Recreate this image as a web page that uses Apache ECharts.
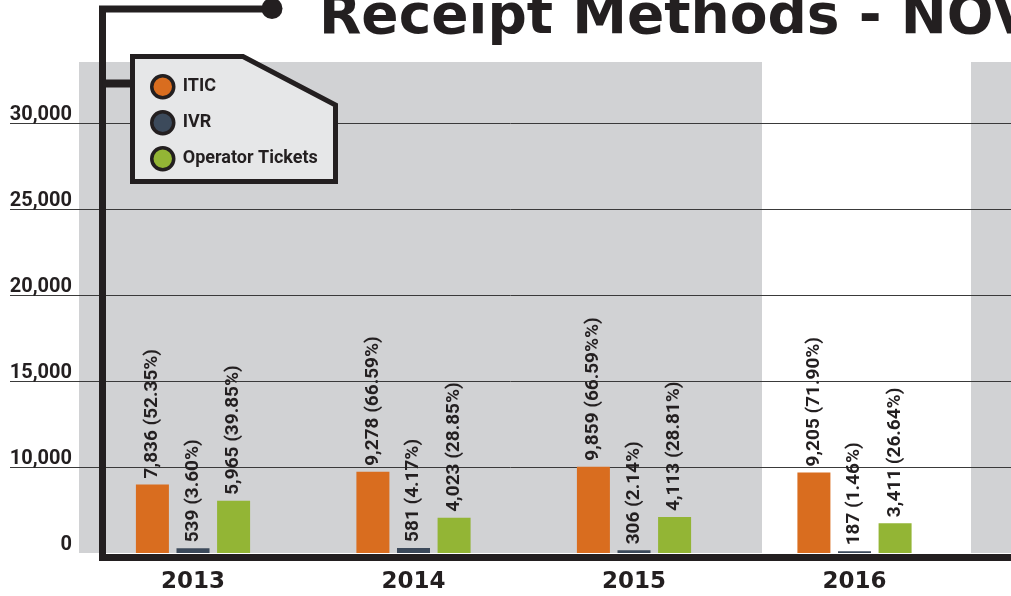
<!DOCTYPE html>
<html>
<head>
<meta charset="utf-8">
<script src="https://cdn.jsdelivr.net/npm/echarts@6/dist/echarts.min.js"></script>
<style>
html,body{margin:0;padding:0;background:#fff;}
#chart{width:1011px;height:596px;}
</style>
</head>
<body>
<div id="chart"></div>
<script>
const categories = ['2013', '2014', '2015', '2016'];
const iticValues = [7836, 9278, 9859, 9205];
const ivrValues = [539, 581, 306, 187];
const operatorValues = [5965, 4023, 4113, 3411];
const iticPct = ['52.35%', '66.59%', '66.59%%', '71.90%'];
const ivrPct = ['3.60%', '4.17%', '2.14%', '1.46%'];
const operatorPct = ['39.85%', '28.85%', '28.81%', '26.64%'];
const yTickLabels = ['0', '10,000', '15,000', '20,000', '25,000', '30,000'];
const titleText = 'Receipt Methods - NOVEMBER';

const INK = '#231f20';

function fmt(pcts) {
  return function (p) {
    return p.value.toLocaleString('en-US') + ' (' + pcts[p.dataIndex] + ')';
  };
}

function barLabel(pcts) {
  return {
    show: true,
    position: 'top',
    rotate: 90,
    align: 'left',
    verticalAlign: 'middle',
    distance: 6,
    color: INK,
    fontFamily: 'Roboto',
    fontWeight: 'bold',
    fontSize: 19,
    formatter: fmt(pcts)
  };
}

const chart = echarts.init(document.getElementById('chart'), null, { renderer: 'canvas' });

chart.setOption({
  animation: false,
  backgroundColor: '#ffffff',
  grid: [
    { left: 10, right: 0, top: 123, bottom: 43 },
    { left: 82.75, right: 46.25, top: 465.5, bottom: 43 }
  ],
  xAxis: [
    { gridIndex: 0, type: 'value', show: false },
    {
      gridIndex: 1,
      type: 'category',
      data: categories,
      axisLine: { show: false },
      axisTick: { show: false },
      axisLabel: {
        color: INK,
        fontFamily: 'DejaVu Sans',
        fontWeight: 'bold',
        fontSize: 23,
        margin: 18
      }
    }
  ],
  yAxis: [
    {
      gridIndex: 0,
      type: 'category',
      data: yTickLabels,
      boundaryGap: false,
      axisLine: { show: false },
      axisTick: { show: false },
      axisLabel: {
        margin: -62,
        align: 'right',
        verticalAlign: 'bottom',
        padding: [0, 0, -2, 0],
        color: INK,
        fontFamily: 'Roboto',
        fontWeight: 'bold',
        fontSize: 20
      },
      splitLine: {
        show: true,
        interval: function (i) { return i !== 0; },
        lineStyle: { color: '#3a3a3a', width: 1 }
      }
    },
    {
      gridIndex: 1,
      type: 'value',
      min: 0,
      max: 10000,
      show: false,
      splitLine: { show: false }
    }
  ],
  legend: {
    orient: 'vertical',
    left: 150,
    top: 74,
    padding: 0,
    itemWidth: 22,
    itemHeight: 22,
    itemGap: 10.5,
    icon: 'circle',
    z: 20,
    itemStyle: { borderColor: INK, borderWidth: 3.5 },
    textStyle: {
      color: INK,
      fontFamily: 'Roboto',
      fontWeight: 'bold',
      fontSize: 18,
      padding: [0, 0, 0, 4]
    },
    data: ['ITIC', 'IVR', 'Operator Tickets']
  },
  series: [
    {
      name: 'ITIC',
      type: 'bar',
      xAxisIndex: 1,
      yAxisIndex: 1,
      data: iticValues,
      barWidth: 33,
      barGap: '23%',
      itemStyle: { color: '#d96d1f' },
      label: barLabel(iticPct)
    },
    {
      name: 'IVR',
      type: 'bar',
      xAxisIndex: 1,
      yAxisIndex: 1,
      data: ivrValues,
      barWidth: 33,
      barGap: '23%',
      itemStyle: { color: '#3c4a5b' },
      label: barLabel(ivrPct)
    },
    {
      name: 'Operator Tickets',
      type: 'bar',
      xAxisIndex: 1,
      yAxisIndex: 1,
      data: operatorValues,
      barWidth: 33,
      barGap: '23%',
      itemStyle: { color: '#93b535' },
      label: barLabel(operatorPct)
    }
  ],
  graphic: [
    { type: 'rect', z: -10, silent: true, shape: { x: 79, y: 62, width: 683, height: 491 }, style: { fill: '#d1d2d4' } },
    { type: 'rect', z: -10, silent: true, shape: { x: 971, y: 62, width: 40, height: 491 }, style: { fill: '#d1d2d4' } },
    {
      type: 'polyline', z: 5, silent: true,
      shape: { points: [[272, 9], [102.5, 9], [102.5, 557.5], [1015, 557.5]] },
      style: { stroke: INK, lineWidth: 7, fill: null, lineJoin: 'miter' }
    },
    { type: 'circle', z: 5, silent: true, shape: { cx: 272, cy: 8.5, r: 10.5 }, style: { fill: INK } },
    {
      type: 'line', z: 5, silent: true,
      shape: { x1: 102.5, y1: 83.5, x2: 134, y2: 83.5 },
      style: { stroke: INK, lineWidth: 8 }
    },
    {
      type: 'polygon', z: 10, silent: true,
      shape: { points: [[132.5, 56.5], [243, 56.5], [335.5, 105], [335.5, 181.5], [132.5, 181.5]] },
      style: { fill: '#e6e7e8', stroke: INK, lineWidth: 5, lineJoin: 'miter' }
    },
    {
      type: 'text', z: 10, silent: true,
      x: 319, y: 18.5,
      style: {
        text: titleText,
        fill: INK,
        font: 'bold 55px "DejaVu Sans"',
        verticalAlign: 'middle',
        align: 'left'
      }
    }
  ]
});
</script>
</body>
</html>
